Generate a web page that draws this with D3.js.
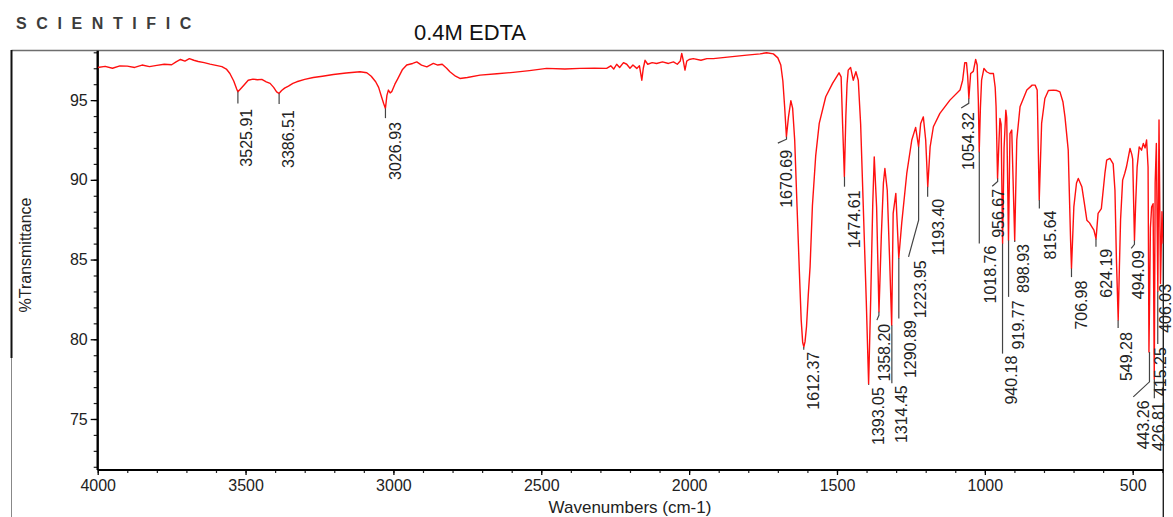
<!DOCTYPE html>
<html><head><meta charset="utf-8">
<script src="https://cdn.jsdelivr.net/npm/d3@7"></script>
<style>
body{margin:0;background:#fff}
svg{display:block}
text{font-family:"Liberation Sans",Arial,Helvetica,sans-serif}
</style>
</head><body>
<svg id="chart" width="1173" height="517"></svg>
<script>
// ---------- data ----------
const wavenumbers = [4000,3975,3950,3925,3900,3875,3850,3825,3800,3775,3750,3735,3720,3705,3690,3675,3660,3640,3620,3600,3580,3565,3553,3540,3530,3526,3518,3505,3491,3475,3460,3445,3430,3417,3405,3395,3387,3378,3368,3355,3340,3327,3300,3271,3240,3203,3160,3113,3090,3075,3060,3050,3040,3033,3027,3022,3017,3011,3005,2995,2985,2970,2955,2935,2921,2905,2887,2865,2850,2835,2820,2809,2790,2775,2750,2707,2650,2595,2540,2482,2420,2369,2320,2279,2265,2255,2245,2235,2222,2211,2200,2190,2177,2168,2160,2155,2149,2140,2125,2110,2090,2070,2053,2040,2030,2025,2020,2014,2008,2000,1986,1960,1940,1918,1870,1805,1760,1738,1715,1700,1690,1683,1677,1671,1664,1656,1650,1643,1635,1627,1621,1616,1612,1608,1603,1597,1591,1583,1572,1560,1538,1515,1493,1486,1481,1475,1470,1466,1462,1454,1445,1436,1428,1420,1411,1401,1393,1386,1379,1374,1366,1358,1350,1343,1338,1330,1322,1315,1310,1301,1291,1281,1264,1247,1234,1224,1217,1208,1200,1193,1185,1174,1152,1118,1084,1075,1068,1062,1058,1054,1048,1039,1031,1026,1022,1019,1015,1011,1003,994,983,971,965,962,957,952,949,945,940,935,929,926,920,915,909,899,892,881,858,840,830,823,816,808,797,785,768,756,746,736,729,718,710,707,699,690,684,672,664,655,646,638,631,624,617,606,594,588,577,566,560,555,549,545,541,534,527,521,509,503,500,494,490,485,478,470,464,458,453,448,445,440,436,431,427,424,420,415,411,406,401,397];
const transmittance = [97.05,97.12,97.0,97.15,97.13,97.05,97.2,97.1,97.18,97.25,97.22,97.4,97.55,97.45,97.6,97.5,97.42,97.35,97.26,97.18,97.1,96.95,96.67,96.2,95.7,95.52,95.68,95.95,96.25,96.32,96.28,96.3,96.15,96.05,95.8,95.52,95.42,95.6,95.75,95.88,96.05,96.15,96.3,96.42,96.5,96.61,96.7,96.78,96.72,96.5,96.15,95.8,95.2,94.79,94.48,95.3,95.63,95.45,95.55,96.0,96.35,96.9,97.2,97.3,97.4,97.2,97.09,97.3,97.2,97.25,97.0,96.78,96.5,96.36,96.42,96.57,96.65,96.74,96.85,96.99,96.95,96.99,97.0,96.99,97.15,96.95,97.25,97.05,97.35,97.25,97.0,97.2,96.99,97.15,96.25,97.0,97.5,97.25,97.35,97.3,97.4,97.3,97.4,97.25,97.45,97.93,97.5,96.88,97.45,97.55,97.6,97.5,97.6,97.6,97.7,97.82,97.9,97.97,97.9,97.65,97.2,96.2,94.58,92.7,93.95,94.96,94.5,92.5,88.3,84.14,81.2,79.8,79.52,79.85,80.8,82.8,84.54,88.4,91.5,93.54,95.21,96.05,96.71,96.46,93.5,90.19,94.0,96.0,96.88,97.05,96.25,96.78,96.25,93.5,88.3,82.45,77.2,82.5,88.5,91.44,88.3,81.72,86.5,89.8,90.71,89.35,85.0,80.88,87.9,89.15,85.1,87.3,90.4,92.5,93.29,92.07,93.54,93.95,92.5,89.57,92.07,93.33,94.17,95.0,95.63,96.25,97.34,97.34,96.5,95.1,96.67,96.8,97.55,97.2,95.0,91.76,94.5,96.25,96.99,96.78,96.67,96.67,95.8,94.58,90.09,92.5,93.85,93.5,86.0,92.0,94.37,93.9,86.2,92.9,93.12,86.2,92.5,94.58,95.63,95.94,95.94,95.63,88.73,93.54,95.1,95.6,95.63,95.6,95.52,94.9,93.95,91.86,86.2,84.44,88.3,89.8,90.09,89.57,88.6,87.47,87.3,87.05,86.84,86.3,87.9,88.2,90.4,91.24,91.34,91.0,89.35,85.0,81.2,84.5,87.5,89.98,90.4,90.82,91.97,91.6,91.3,86.2,88.5,90.8,92.07,91.86,92.28,92.0,92.5,90.8,79.2,87.0,88.3,88.5,77.5,89.8,92.28,83.0,93.75,83.5,88.0,86.0];

const xTickValues = [4000,3500,3000,2500,2000,1500,1000,500];
const yTickValues = [75,80,85,90,95];

// peak annotations
const peakWavenumbers = [3525.91,3386.51,3026.93,1670.69,1612.37,1474.61,1393.05,1358.20,1314.45,1290.89,1223.95,1193.40,1054.32,1018.76,956.67,940.18,919.77,898.93,815.64,706.98,624.19,549.28,494.09,443.26,426.81,415.25,406.03];
const peakLabels = ["3525.91","3386.51","3026.93","1670.69","1612.37","1474.61","1393.05","1358.20","1314.45","1290.89","1223.95","1193.40","1054.32","1018.76","956.67","940.18","919.77","898.93","815.64","706.98","624.19","549.28","494.09","443.26","426.81","415.25","406.03"];
const peakDepths = [95.52,95.42,94.48,92.7,79.52,90.19,77.2,81.72,80.88,85.1,92.07,89.57,95.1,91.76,90.09,86.0,86.2,86.2,88.73,84.44,86.3,81.2,86.2,79.2,77.5,83.0,83.5];
// annotation layout (in data units): label centre wavenumber, label top %T, leader bend %T, leader end
const labelCenterWn = [3496,3355,2995,1670,1580,1442,1360,1338,1281,1253,1219,1157,1056,982,954,909,887,870,780,672,588,520,481,464,413,405,391];
const labelTopT = [94.58,94.5,93.75,92.0,79.34,89.46,77.12,81.1,77.24,81.32,85.07,88.94,94.37,86.0,89.56,79.1,82.56,86.1,88.2,83.8,85.8,80.57,85.7,76.29,76.18,79.63,83.6];
const leaderBendT = [94.79,94.75,93.87,92.55,79.34,89.57,77.15,81.5,77.24,81.3,87.47,88.94,94.8,86.0,89.9,79.1,82.66,86.1,88.2,83.9,85.8,80.7,85.95,77.33,76.3,79.7,83.5];
const leaderEndWn = [3525.91,3386.51,3026.93,1700,1612.37,1474.61,1393.05,1365,1314.45,1290.89,1258,1193.40,1080,1018.76,975,940.18,919.77,898.93,815.64,706.98,624.19,549.28,505,498,426.81,415.25,406.03];
const leaderEndT = [94.79,94.75,93.87,92.3,79.34,89.57,77.15,81.2,77.24,81.3,85.17,88.94,94.5,86.0,89.6,79.1,82.66,86.1,88.2,83.9,85.8,80.7,85.7,76.39,76.3,79.7,83.5];

// ---------- drawing ----------
const svg = d3.select("#chart");
const plot = {left: 97.7, right: 1163.3, top: 50.7, bottom: 470};
const x = d3.scaleLinear().domain([4000, 396.5]).range([plot.left, plot.right]);
const y = d3.scaleLinear().domain([71.8, 98.1]).range([plot.bottom, plot.top]);

// frame lines
svg.append("line").attr("x1",11.5).attr("x2",1163.3).attr("y1",50.5).attr("y2",50.5)
  .attr("stroke","#6e6e6e").attr("stroke-width",1.4);
svg.append("line").attr("x1",11.5).attr("x2",11.5).attr("y1",50).attr("y2",358)
  .attr("stroke","#111").attr("stroke-width",2);
svg.append("line").attr("x1",11.5).attr("x2",11.5).attr("y1",358).attr("y2",517)
  .attr("stroke","#888").attr("stroke-width",1);
svg.append("line").attr("x1",1163.3).attr("x2",1163.3).attr("y1",50).attr("y2",517)
  .attr("stroke","#222").attr("stroke-width",1.4);

// header texts
svg.append("text").attr("x",16).attr("y",28.5).text("SCIENTIFIC")
  .attr("font-size",16).attr("font-weight","bold").attr("letter-spacing","9.6px").attr("fill","#3c3c3c");
svg.append("text").attr("x",470).attr("y",40).attr("text-anchor","middle").text("0.4M EDTA")
  .attr("font-size",22).attr("fill","#111");

// axes
const xMinor = d3.range(4000, 396, -100);
svg.append("g").attr("transform",`translate(0,${plot.bottom})`)
  .call(d3.axisBottom(x).tickValues(xMinor).tickSize(3).tickFormat(""))
  .call(g=>g.select(".domain").remove())
  .call(g=>g.selectAll("line").attr("stroke","#222").attr("stroke-width",1.2));
svg.append("g").attr("transform",`translate(0,${plot.bottom})`)
  .call(d3.axisBottom(x).tickValues(xTickValues).tickSize(5).tickPadding(5).tickFormat(d3.format("d")))
  .call(g=>g.select(".domain").attr("d",`M${plot.left},0H${plot.right}`).attr("stroke","#000").attr("stroke-width",2.2))
  .call(g=>g.selectAll(".tick line").attr("stroke","#000").attr("stroke-width",1.3))
  .call(g=>g.selectAll("text").attr("font-size",16).attr("fill","#222").attr("font-family","Liberation Sans, Arial, sans-serif"));

const yMinor = d3.range(72, 98.01, 1);
svg.append("g").attr("transform",`translate(${plot.left},0)`)
  .call(d3.axisLeft(y).tickValues(yMinor).tickSize(4).tickFormat(""))
  .call(g=>g.select(".domain").remove())
  .call(g=>g.selectAll("line").attr("stroke","#222").attr("stroke-width",1.2));
svg.append("g").attr("transform",`translate(${plot.left},0)`)
  .call(d3.axisLeft(y).tickValues(yTickValues).tickSize(7).tickPadding(3).tickFormat(d3.format("d")))
  .call(g=>g.select(".domain").attr("d",`M0,${plot.top}V${plot.bottom}`).attr("stroke","#000").attr("stroke-width",2.4))
  .call(g=>g.selectAll(".tick line").attr("stroke","#000").attr("stroke-width",1.3))
  .call(g=>g.selectAll("text").attr("font-size",16).attr("fill","#222").attr("font-family","Liberation Sans, Arial, sans-serif"));

// axis titles
svg.append("text").attr("transform","translate(31,255) rotate(-90)").attr("text-anchor","middle")
  .attr("font-size",16).attr("fill","#222").text("%Transmittance");
svg.append("text").attr("x",630).attr("y",513).attr("text-anchor","middle")
  .attr("font-size",17).attr("fill","#222").text("Wavenumbers (cm-1)");

// spectrum
svg.append("defs").append("clipPath").attr("id","clip").append("rect")
  .attr("x",plot.left).attr("y",plot.top).attr("width",plot.right-plot.left).attr("height",plot.bottom-plot.top);
const pts = wavenumbers.map((w,i)=>[w, transmittance[i]]);
svg.append("path").datum(pts).attr("clip-path","url(#clip)")
  .attr("fill","none").attr("stroke","#ff1010").attr("stroke-width",1.4).attr("stroke-linejoin","round")
  .attr("d", d3.line().x(d=>x(d[0])).y(d=>y(d[1])));

// peak leaders and labels
const ann = svg.append("g");
peakWavenumbers.forEach((w,i)=>{
  const path = [[x(w), y(peakDepths[i])],[x(w), y(leaderBendT[i])],[x(leaderEndWn[i]), y(leaderEndT[i])]];
  ann.append("path").attr("d", d3.line()(path)).attr("fill","none")
    .attr("stroke","#444").attr("stroke-width",1.2);
  ann.append("text")
    .attr("transform",`translate(${x(labelCenterWn[i])},${y(labelTopT[i])+2}) rotate(-90)`)
    .attr("text-anchor","end").attr("dy","0.35em")
    .attr("font-size",16).attr("fill","#222").text(peakLabels[i]);
});
</script>
</body></html>
